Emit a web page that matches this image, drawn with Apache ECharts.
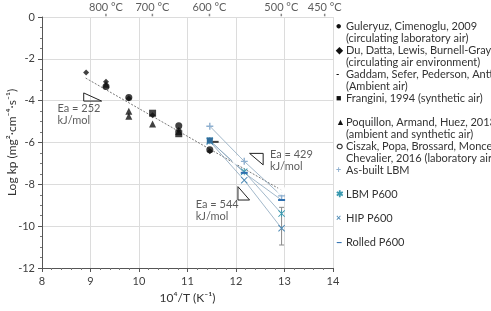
<!DOCTYPE html>
<html>
<head>
<meta charset="utf-8">
<script src="https://cdn.jsdelivr.net/npm/echarts@6/dist/echarts.min.js"></script>
<style>
html, body { margin: 0; padding: 0; background: #fff; }
#chart { width: 491px; height: 311px; }
</style>
</head>
<body>
<div id="chart"></div>
<script>
// points are [10^4/T, log kp]
const guleryuz = [[9.32, -3.32], [9.79, -3.85], [10.82, -5.2], [11.46, -6.35]]
const du = [[8.91, -2.65], [9.32, -3.1], [9.79, -3.9], [10.28, -4.7], [10.82, -5.4], [11.46, -6.42]]
const gaddam = [[11.58, -5.97]]
const frangini = [[10.28, -4.6], [10.82, -5.58]]
const poquillon = [[9.32, -3.22], [9.79, -4.5], [9.79, -4.75], [10.28, -5.12], [10.82, -5.48]]
const ciszak = [[11.15, -6.38], [12.01, -6.85], [12.94, -8.3]]
const asBuilt = [[11.46, -5.22], [12.17, -6.9], [12.94, -8.55]]
const lbmP600 = [[11.46, -5.92], [12.17, -7.4], [12.94, -9.4]]
const hipP600 = [[11.46, -5.95], [12.17, -7.8], [12.94, -10.1]]
const rolledP600 = [[11.46, -5.9], [12.17, -7.45], [12.94, -8.75]]
const hipError = [[12.94, -9.1], [12.94, -10.9]]

// Ea = 252 kJ/mol trend
const trend = [[8.9, -2.92], [12.94, -8.28]]
const tri252 = [[8.86, -3.63], [8.86, -4.02], [9.23, -4.02], [8.86, -3.63]]
const tri429 = [[12.28, -6.52], [12.56, -6.52], [12.56, -7.07], [12.28, -6.52]]
const tri544 = [[12.04, -8.11], [12.04, -8.75], [12.28, -8.75], [12.04, -8.11]]
const eaLabels = [[8.32, -4.68, 'Ea = 252\nkJ/mol'], [12.7, -6.86, 'Ea = 429\nkJ/mol'], [11.17, -9.23, 'Ea = 544\nkJ/mol']]

const tempC = [800, 700, 600, 500, 450]

const seriesNames = [
  'Guleryuz, Cimenoglu, 2009',
  'Du, Datta, Lewis, Burnell-Gray, 1999',
  'Gaddam, Sefer, Pederson, Antti 2013',
  'Frangini, 1994 (synthetic air)',
  'Poquillon, Armand, Huez, 2013',
  'Ciszak, Popa, Brossard, Monceau,',
  'As-built LBM',
  'LBM P600',
  'HIP P600',
  'Rolled P600'
]
const secondLines = [
  '(circulating laboratory air)',
  '(circulating air environment)',
  '(Ambient air)',
  '',
  '(ambient and synthetic air)',
  'Chevalier, 2016 (laboratory air)',
  '', '', '', ''
]
const glyphs = ['●', '◆', '-', '■', '▲', '○', '+', '✱', '×', '−']
const colors = ['#111', '#111', '#111', '#111', '#111', '#333', '#8fb0d0', '#3b9ab0', '#4d8ab5', '#2e6fb0']

const plusPath = 'path://M4,0H6V4H10V6H6V10H4V6H0V4H4Z'
const crossPath = 'path://M1,0L10,9L9,10L0,1Z M9,0L10,1L1,10L0,9Z'
const starPath = 'path://M4.4,0H5.6V10H4.4Z M1,0L10,9L9,10L0,1Z M9,0L10,1L1,10L0,9Z'

const chart = echarts.init(document.getElementById('chart'))

const rich = { ind: { width: 10 } }
glyphs.forEach((g, i) => {
  rich['m' + i] = { width: 10, color: colors[i], fontSize: (i === 5 || i === 9) ? 11 : 9, fontWeight: 'bold' }
})

const blackScatter = (name, data, symbol, size) => ({
  name, type: 'scatter', data, symbol, symbolSize: size,
  itemStyle: { color: '#111' }, z: 5
})
const blueLine = (name, data, symbol, size, color) => ({
  name, type: 'line', data, symbol, symbolSize: size,
  itemStyle: { color },
  lineStyle: { color: '#8aa6bd', width: 0.8 },
  z: 4
})
const shape = (data) => ({
  type: 'line', data, symbol: 'none', silent: true,
  lineStyle: { color: '#222', width: 1 }
})

const rolledSeries = blueLine(seriesNames[9], rolledP600, 'rect', [7, 2], colors[9])
// the 600 °C P600 points overlap as a filled blue block in the figure
rolledSeries.data = rolledP600.map((p, i) => i === 0
  ? { value: p, symbol: 'rect', symbolSize: 6, itemStyle: { color: '#2f6d9c' } }
  : p)

chart.setOption({
  animation: false,
  textStyle: { fontFamily: 'Lato, "Noto Sans", sans-serif' },
  grid: { left: 42, right: 158, top: 17, bottom: 43, containLabel: false, outerBoundsMode: 'none' },
  legend: {
    data: seriesNames,
    orient: 'vertical',
    left: 331,
    top: 20,
    icon: 'none',
    itemWidth: 0,
    itemHeight: 12,
    itemGap: 0,
    padding: 0,
    selectedMode: false,
    formatter: (name) => {
      const i = seriesNames.indexOf(name)
      return '{m' + i + '|' + glyphs[i] + '}' + name + '\n{ind| }' + (secondLines[i] || ' ')
    },
    textStyle: { fontSize: 11, color: '#333', lineHeight: 12, rich }
  },
  xAxis: {
    type: 'value', min: 8, max: 14, interval: 1,
    name: '10⁴/T (K⁻¹)', nameLocation: 'middle', nameGap: 22,
    nameTextStyle: { fontSize: 12, color: '#333' },
    axisLine: { onZero: false, lineStyle: { color: '#555' } },
    axisTick: { length: 4, lineStyle: { color: '#555' } },
    minorTick: { show: true, splitNumber: 5, length: 2, lineStyle: { color: '#777' } },
    axisLabel: { fontSize: 11, color: '#404040', margin: 8 },
    splitLine: { lineStyle: { color: '#dcdcdc' } }
  },
  yAxis: {
    type: 'value', min: -12, max: 0, interval: 2,
    name: 'Log kp (mg²·cm⁻⁴·s⁻¹)', nameLocation: 'middle', nameGap: 24, nameRotate: 90,
    nameMoveOverlap: false,
    nameTextStyle: { fontSize: 12, color: '#333' },
    axisLine: { show: true, onZero: false, lineStyle: { color: '#555' } },
    axisTick: { show: true, length: 4, lineStyle: { color: '#555' } },
    minorTick: { show: true, splitNumber: 4, length: 2, lineStyle: { color: '#777' } },
    axisLabel: { fontSize: 11, color: '#404040', margin: 7 },
    splitLine: { lineStyle: { color: '#dcdcdc' } }
  },
  series: [
    {
      type: 'line', data: trend, symbol: 'none', silent: true, z: 2,
      lineStyle: { color: '#777', width: 1, type: [2, 1.5] }
    },
    shape(tri252), shape(tri429), shape(tri544),
    {
      type: 'line', data: hipError, symbol: 'rect', symbolSize: [5, 1], silent: true,
      itemStyle: { color: '#888' }, lineStyle: { color: '#888', width: 1 }, z: 3
    },
    blackScatter(seriesNames[0], guleryuz, 'circle', 7),
    blackScatter(seriesNames[1], du, 'diamond', 6),
    blackScatter(seriesNames[2], gaddam, 'rect', [6, 2]),
    blackScatter(seriesNames[3], frangini, 'rect', 7),
    blackScatter(seriesNames[4], poquillon, 'triangle', 7),
    {
      name: seriesNames[5], type: 'scatter', data: ciszak, symbol: 'emptyCircle', symbolSize: 7,
      itemStyle: { color: '#fff', borderColor: '#444', borderWidth: 1 }, z: 6
    },
    blueLine(seriesNames[6], asBuilt, plusPath, 7, colors[6]),
    blueLine(seriesNames[7], lbmP600, starPath, 7, colors[7]),
    blueLine(seriesNames[8], hipP600, crossPath, 7, colors[8]),
    rolledSeries,
    {
      type: 'scatter', silent: true, symbolSize: 0,
      data: eaLabels,
      label: {
        show: true, position: 'right', distance: 0,
        formatter: (p) => p.data[2],
        fontSize: 11, lineHeight: 12, color: '#333'
      }
    },
    {
      type: 'scatter', silent: true, clip: false,
      data: tempC.map(t => [1e4 / (t + 273.15), 0, t]),
      symbol: 'rect', symbolSize: [1.5, 2.5], symbolOffset: [0, -2],
      itemStyle: { color: '#666' },
      label: {
        show: true, position: 'top', distance: 1,
        formatter: (p) => p.data[2] + ' °C',
        fontSize: 11, color: '#333'
      }
    }
  ]
})
</script>
</body>
</html>
